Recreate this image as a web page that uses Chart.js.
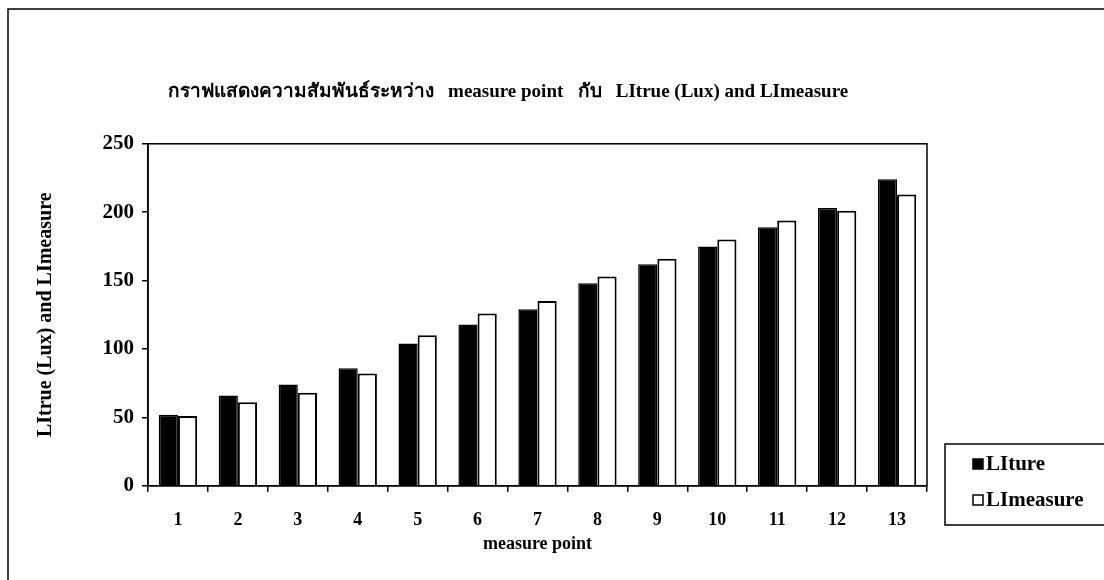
<!DOCTYPE html>
<html>
<head>
<meta charset="utf-8">
<title>measure point chart</title>
<script src="https://cdn.jsdelivr.net/npm/chart.js@4"></script>
<style>
    body { margin: 0; background: #fff; }
    #wrap { width: 1104px; height: 580px; }
</style>
</head>
<body>
<div id="wrap"><canvas id="myChart" width="1104" height="580"></canvas></div>
<script>
const categories = ['1', '2', '3', '4', '5', '6', '7', '8', '9', '10', '11', '12', '13'];
const liTrue = [52, 66, 74, 86, 104, 118, 129, 148, 162, 175, 189, 203, 224];
const liMeasure = [51, 61, 68, 82, 110, 126, 135, 153, 166, 180, 194, 201, 213];
const yTicks = [0, 50, 100, 150, 200, 250];
const seriesNames = ['LIture', 'LImeasure'];

const serif = "'Liberation Serif', 'Times New Roman', serif";

// frame round the whole chart + box round the plot area
const framePlugin = {
    id: 'frame',
    beforeDraw(chart) {
        const ctx = chart.ctx;
        const a = chart.chartArea;
        ctx.save();
        ctx.strokeStyle = '#000';
        ctx.lineWidth = 1.5;
        ctx.strokeRect(8, 9, 1200, 700);
        ctx.strokeRect(a.left, a.top, a.right - a.left, a.bottom - a.top);
        ctx.restore();
    }
};

// excel-like legend box at the bottom right
const legendBox = {
    id: 'legendBox',
    afterDraw(chart) {
        const ctx = chart.ctx;
        ctx.save();
        ctx.strokeStyle = '#000';
        ctx.lineWidth = 1.5;
        ctx.strokeRect(945, 444, 200, 81);
        ctx.font = 'bold 21px ' + serif;
        ctx.textBaseline = 'middle';
        chart.data.datasets.forEach((ds, i) => {
            const y = 464 + i * 36;
            ctx.fillStyle = ds.backgroundColor;
            ctx.fillRect(973, y - 5, 10, 10);
            ctx.strokeRect(973, y - 5, 10, 10);
            ctx.fillStyle = '#000';
            ctx.fillText(ds.label, 986, y + 1);
        });
        ctx.restore();
    }
};

const data = {
    labels: categories,
    datasets: [{
        label: seriesNames[0],
        backgroundColor: '#000',
        borderColor: '#000',
        borderWidth: 1.5,
        data: liTrue,
    }, {
        label: seriesNames[1],
        backgroundColor: '#fff',
        borderColor: '#000',
        borderWidth: 2,
        data: liMeasure,
    }]
};

const config = {
    type: 'bar',
    data,
    options: {
        responsive: false,
        animation: false,
        categoryPercentage: 0.64,
        barPercentage: 1,
        layout: { padding: { left: 34, right: 122, top: 0, bottom: 25 } },
        plugins: {
            legend: { display: false },
            tooltip: { enabled: false },
            title: {
                display: true,
                text: 'กราฟแสดงความสัมพันธ์ระหว่าง   measure point   กับ   LItrue (Lux) and LImeasure',
                color: '#000',
                font: { family: serif, size: 19, weight: 'bold' },
                padding: { top: 81, bottom: 40 }
            }
        },
        scales: {
            x: {
                grid: { display: true, drawOnChartArea: false, offset: true, tickLength: 6, color: '#000', lineWidth: 1.5 },
                border: { display: true, color: '#000', width: 1.5 },
                ticks: { color: '#000', padding: 18, font: { family: serif, size: 18, weight: 'bold' } },
                title: {
                    display: true,
                    text: 'measure point',
                    color: '#000',
                    font: { family: serif, size: 18, weight: 'bold' },
                    padding: { top: -16, bottom: 0 }
                }
            },
            y: {
                min: 0,
                max: 250,
                afterBuildTicks: scale => {
                    scale.ticks = yTicks.map(v => ({ value: v }));
                },
                afterFit: scale => { scale.width = 114; },
                grid: { display: true, drawOnChartArea: false, tickLength: 6, color: '#000', lineWidth: 1.5 },
                border: { display: true, color: '#000', width: 1.5 },
                ticks: { color: '#000', padding: 8, font: { family: serif, size: 21, weight: 'bold' } },
                title: {
                    display: true,
                    text: 'LItrue (Lux) and LImeasure',
                    color: '#000',
                    font: { family: serif, size: 20, weight: 'bold' },
                    padding: { top: 0, bottom: 0 }
                }
            },
            y2: {
                position: 'right',
                display: true,
                grid: { display: false },
                border: { display: false },
                ticks: { display: false },
                afterFit: scale => { scale.width = 55; }
            }
        }
    },
    plugins: [framePlugin, legendBox]
};

myChart = new Chart(document.getElementById('myChart'), config);
</script>
</body>
</html>
